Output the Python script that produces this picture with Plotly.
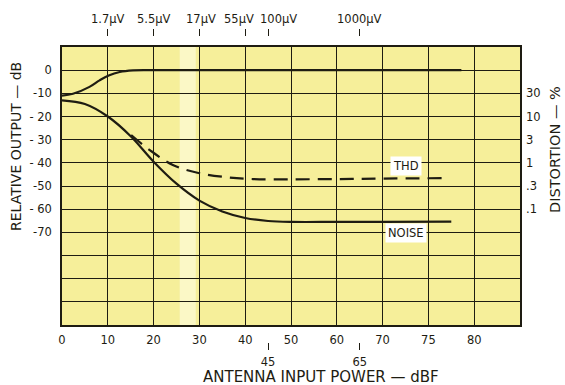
import numpy as np
import plotly.graph_objects as go

# ---------------- data ----------------
# bottom axis (dBf) labels at equally spaced grid lines
x_tick_dbf = [0, 10, 20, 30, 40, 50, 60, 70, 75, 80]
x_tick_text = ["0", "10", "20", "30", "40", "50", "60", "70", "75", "80"]
x_extra_dbf = [45, 65]
x_extra_text = ["45", "65"]

# top axis (antenna voltage)
top_tick_dbf = [10, 20, 30, 40, 45, 65]
top_tick_text = ["1.7\u03bcV", "5.5\u03bcV", "17\u03bcV", "55\u03bcV", "100\u03bcV", "1000\u03bcV"]

# left axis (relative output, dB)
y_grid = [0, -10, -20, -30, -40, -50, -60, -70, -80, -90, -100]
y_tick_text = ["0", "-10", "- 20", "- 30", "- 40", "-50", "- 60", "-70", "", "", ""]

# right axis (distortion, %)
dist_tick_db = [-10, -20, -30, -40, -50, -60]
dist_tick_text = ["30", "10", "3", "1", ".3", ".1"]

# curves (x in dBf, y in dB)
out_x = [0, 2.4, 6, 8.2, 10.2, 12.6, 15.5, 20, 40, 60, 70, 78.6]
out_y = [-11, -10.2, -7.2, -4.4, -2.3, -0.8, -0.1, 0, 0, 0, 0, 0]

noise_x = [0, 5, 10, 15, 20, 25, 30, 35, 40, 45, 50, 60, 70, 77.5]
noise_y = [-13, -14.6, -20, -28.5, -39.5, -49, -56.3, -61, -63.8, -65.1, -65.5, -65.5, -65.5, -65.4]

thd_x = [15.1, 19.1, 24.2, 30, 35.9, 41.7, 50, 60, 70, 76.7]
thd_y = [-28, -34.4, -40.9, -44.5, -46.2, -47.0, -47.1, -47.0, -46.8, -46.6]

# ---------------- scale: dBf -> grid position ----------------
_scale_dbf = x_tick_dbf + [85]
_scale_pos = list(range(len(_scale_dbf)))


def pos(v):
    return np.interp(np.asarray(v, dtype=float), _scale_dbf, _scale_pos)


W, H = 565, 385
ML, MR, MT, MB = 62, 45, 36, 43
plot_h = H - MT - MB


def py(ypx):
    return (H - MB - ypx) / plot_h


def px(xpx):
    return (xpx - ML) / (W - ML - MR)


ink = "#1e1c12"
bg = "#f6ef9a"
FONT = "DejaVu Sans"
TICK = 11.5

fig = go.Figure()

line_style = dict(color=ink, width=2.2, shape="spline", smoothing=1.0)
fig.add_trace(go.Scatter(x=pos(out_x), y=out_y, mode="lines", line=line_style,
                         showlegend=False, hoverinfo="skip"))
fig.add_trace(go.Scatter(x=pos(noise_x), y=noise_y, mode="lines", line=line_style,
                         showlegend=False, hoverinfo="skip"))
fig.add_trace(go.Scatter(x=pos(thd_x), y=thd_y, mode="lines",
                         line=dict(line_style, dash="14px,8px"),
                         showlegend=False, hoverinfo="skip"))

# invisible helper traces so that the extra axes are drawn
fig.add_trace(go.Scatter(x=[0], y=[0], xaxis="x2", yaxis="y", mode="markers",
                         marker=dict(opacity=0), showlegend=False, hoverinfo="skip"))
fig.add_trace(go.Scatter(x=[0], y=[0], xaxis="x3", yaxis="y", mode="markers",
                         marker=dict(opacity=0), showlegend=False, hoverinfo="skip"))
fig.add_trace(go.Scatter(x=[0], y=[0], xaxis="x", yaxis="y2", mode="markers",
                         marker=dict(opacity=0), showlegend=False, hoverinfo="skip"))

ydom = [py(325), py(47)]

fig.update_layout(
    width=W, height=H,
    margin=dict(l=ML, r=MR, t=MT, b=MB, pad=0, autoexpand=False),
    paper_bgcolor="white",
    plot_bgcolor=bg,
    font=dict(family=FONT, size=TICK, color=ink),
    xaxis=dict(range=[0, 10], tickvals=list(pos(x_tick_dbf)), ticktext=x_tick_text,
               showgrid=True, gridcolor=ink, gridwidth=1.3, zeroline=False,
               showline=True, linecolor=ink, linewidth=1.6, mirror=True,
               ticks="", ticklabelstandoff=3, tickangle=0, automargin=False, fixedrange=True),
    xaxis2=dict(range=[0, 10], overlaying="x", side="top", anchor="free", position=1,
                tickvals=list(pos(top_tick_dbf)), showticklabels=False,
                ticks="outside", ticklen=7, tickwidth=1, tickcolor=ink,
                showgrid=False, showline=False, zeroline=False, automargin=False),
    xaxis3=dict(range=[0, 10], overlaying="x", side="bottom", anchor="free", position=0,
                tickvals=list(pos(x_extra_dbf)), ticktext=x_extra_text,
                ticks="outside", ticklen=7, tickwidth=1, tickcolor=ink, tickangle=0,
                showgrid=False, showline=False, zeroline=False, ticklabelstandoff=2,
                automargin=False),
    yaxis=dict(range=[-110, 10], domain=ydom, tickvals=y_grid, ticktext=y_tick_text,
               showgrid=True, gridcolor=ink, gridwidth=1.3, zeroline=False,
               showline=True, linecolor=ink, linewidth=1.6, mirror=True,
               ticks="", ticklabelstandoff=6, automargin=False, fixedrange=True),
    yaxis2=dict(range=[-110, 10], overlaying="y", side="right", anchor="x",
                tickvals=dist_tick_db, ticktext=dist_tick_text,
                showgrid=False, zeroline=False, showline=False, ticks="",
                ticklabelstandoff=5, automargin=False),
)

C = dict(xanchor="center", yanchor="middle", showarrow=False)

# top-axis labels (nudged sideways where they crowd, as in the original)
top_nudge = [0, 0, 2, -6, 10, 0]
for v, t, dx in zip(top_tick_dbf, top_tick_text, top_nudge):
    fig.add_annotation(x=float(pos(v)), y=py(19), xref="x", yref="paper", text=t,
                       xshift=dx, font=dict(size=TICK, color=ink), **C)

# faint light band (scan artefact)
fig.add_shape(type="rect", xref="x", yref="y", x0=2.57, x1=2.92, y0=-110, y1=10,
              fillcolor="#fbf8c6", line_width=0, layer="below")

# labels on curves
fig.add_annotation(x=float(pos(72.5)), y=-41.2, xref="x", yref="y", text="THD",
                   bgcolor="white", borderpad=2, font=dict(size=TICK, color=ink), **C)
fig.add_annotation(x=float(pos(72.5)), y=-70.5, xref="x", yref="y", text="NOISE",
                   bgcolor="white", borderpad=2, font=dict(size=TICK, color=ink), **C)

# axis titles
fig.add_annotation(x=px(16), y=py(147), xref="paper", yref="paper",
                   text="RELATIVE OUTPUT \u2014 dB", textangle=-90,
                   font=dict(size=14, color=ink), **C)
fig.add_annotation(x=px(555), y=py(150), xref="paper", yref="paper",
                   text="DISTORTION \u2014 %", textangle=-90,
                   font=dict(size=14.5, color=ink), **C)
fig.add_annotation(x=px(321), y=py(377), xref="paper", yref="paper",
                   text="ANTENNA INPUT POWER \u2014 dBF",
                   font=dict(size=15, color=ink), **C)

fig.write_html("out.html", config={"displayModeBar": False},
               post_script="document.body.style.margin='0';document.body.style.padding='0';")
